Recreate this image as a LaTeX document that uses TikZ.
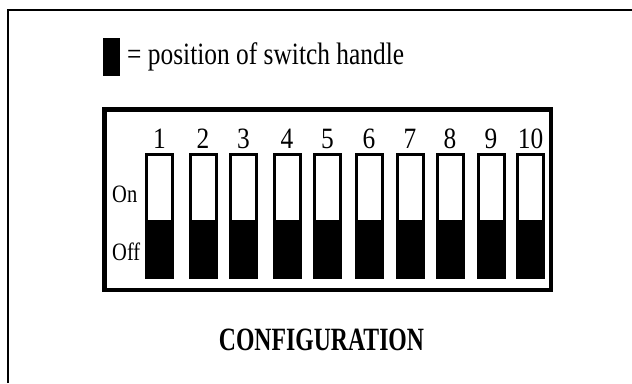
\documentclass[tikz,border=0pt]{standalone}
\usepackage{fontspec}
\setmainfont{Liberation Serif}
\begin{document}
\begin{tikzpicture}[x=1pt,y=-1pt,
  switchbox/.style={draw=black, line width=3pt, fill=white, minimum width=26pt, minimum height=123pt, inner sep=0pt,
    path picture={\fill[black] (path picture bounding box.south west) rectangle ([yshift=58pt]path picture bounding box.south east);}},
  numlabel/.style={anchor=base, inner sep=0pt, font=\fontsize{29.5}{30}\selectfont},
  sidelabel/.style={anchor=base west, inner sep=0pt, font=\fontsize{25}{26}\selectfont},
  frameline/.style={draw=black, line width=4.5pt},
  outerline/.style={draw=black, line width=2.5pt}]
\useasboundingbox (0,0) rectangle (632,383);
\fill[white] (0,0) rectangle (632,383);
% outer frame (only top and left edges visible)
\coordinate (oa) at (8,383);
\coordinate (ob) at (8,10);
\coordinate (oc) at (632,10);
\draw[outerline] (oa) -- (ob) -- (oc);
% legend
\node[fill=black, minimum width=17pt, minimum height=38pt, inner sep=0pt] (key) at (111.5,57) {};
\node[anchor=base west, inner sep=0pt, font=\fontsize{31}{32}\selectfont] (keytext) at (127,64) {\scalebox{0.82}[1]{= position of switch handle}};
% inner frame
\node[frameline, minimum width=446.5pt, minimum height=180.5pt, inner sep=0pt] (frame) at (327.75,199.75) {};
% switches
\foreach \i/\x in {1/159.5,2/203,3/243.5,4/287,5/327.5,6/369,7/410,8/450,9/491,10/530.5}{
  \node[switchbox] (s\i) at (\x,216) {};
  \node[numlabel] (n\i) at (\x,148) {\scalebox{0.86}[1]{\i}};
}
\node[sidelabel] (on) at (112,202) {\scalebox{0.82}[1]{On}};
\node[sidelabel] (off) at (112,260) {\scalebox{0.82}[1]{Off}};
% title
\node[anchor=base, inner sep=0pt, font=\fontsize{32.5}{33}\selectfont\bfseries] (title) at (321.5,350) {\scalebox{0.73}[1]{CONFIGURATION}};
\end{tikzpicture}
\end{document}
